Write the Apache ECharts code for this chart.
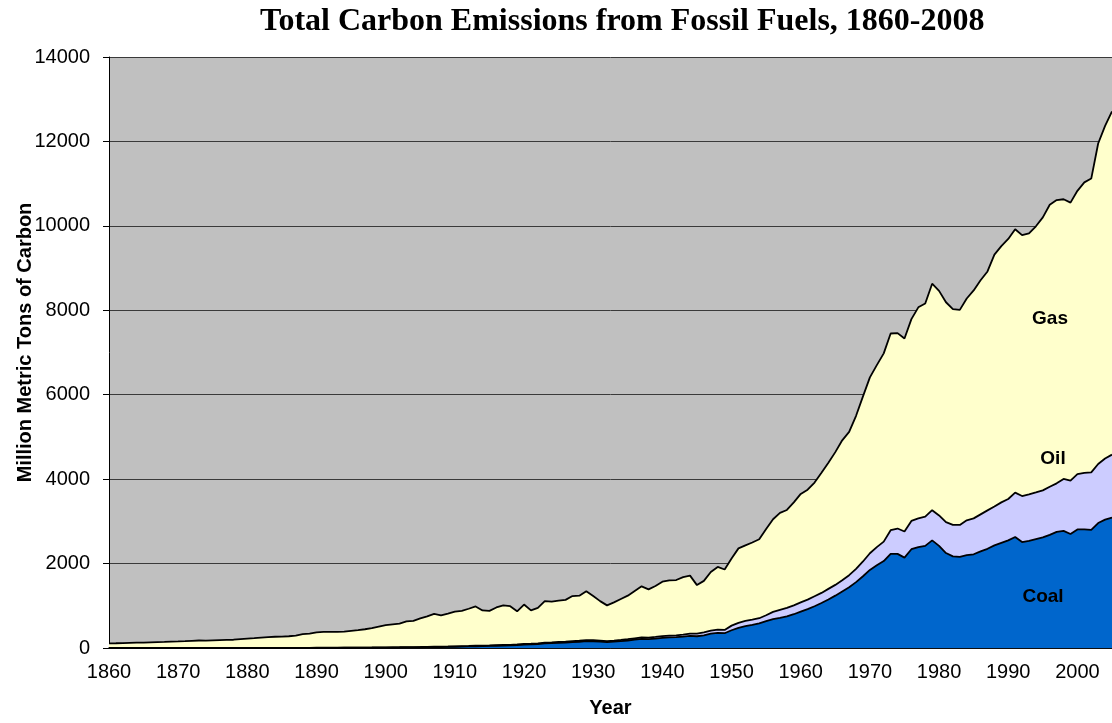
<!DOCTYPE html>
<html>
<head>
<meta charset="utf-8">
<script src="https://cdn.jsdelivr.net/npm/echarts@6/dist/echarts.min.js"></script>
<style>
html,body{margin:0;padding:0;background:#fff;}
#chart{width:1112px;height:723px;}
</style>
</head>
<body>
<div id="chart"></div>
<script>
// Years 1860..2005
var years = [];
for (var y = 1860; y <= 2005; y++) years.push(y);

// Top edge of the Gas band (total emissions)
var gasTop = [
  110,113,117,121,125,129,134,139,144,150,
  155,162,170,178,176,182,188,194,196,208,
  220,232,246,258,266,270,278,295,330,340,
  370,382,382,380,390,408,424,444,470,505,
  540,560,575,630,645,700,750,808,775,815,
  860,880,930,985,890,880,960,1010,990,870,
  1030,890,950,1110,1100,1120,1140,1230,1240,1345,
  1230,1110,1010,1080,1160,1240,1350,1460,1390,1470,
  1570,1600,1610,1680,1715,1490,1590,1800,1920,1860,
  2120,2360,2430,2500,2575,2820,3050,3200,3270,3450,
  3650,3750,3920,4150,4390,4640,4920,5120,5500,5960,
  6410,6700,6980,7450,7460,7330,7790,8070,8160,8630,
  8460,8190,8030,8010,8280,8470,8710,8920,9320,9520,
  9690,9920,9780,9820,9990,10200,10500,10610,10630,10550,
  10830,11030,11120,11950,12370,12710
];

// Top edge of the Oil band (coal + oil)
var oilTop = [
  0,0,0,0,0,0,0,0,0,0,
  0,0,0,0,0,0,0,0,0,0,
  0,0,0,0,1,3,3,4,4,5,
  6,7,7,7,8,9,10,11,12,14,
  16,17,18,20,22,24,27,30,32,35,
  40,44,48,54,57,60,66,72,76,84,
  95,101,110,127,134,143,150,161,172,188,
  184,176,165,176,190,208,230,252,248,262,
  280,292,300,318,340,340,368,410,435,428,
  530,595,640,670,705,775,855,905,950,1010,
  1080,1145,1225,1305,1400,1495,1605,1725,1875,2050,
  2245,2390,2520,2790,2830,2760,3010,3070,3110,3265,
  3140,2980,2915,2915,3025,3070,3165,3260,3350,3450,
  3530,3680,3600,3640,3685,3735,3820,3900,4005,3965,
  4120,4150,4160,4360,4490,4580
];

// Top edge of the Coal band
var coalTop = [
  0,0,0,0,0,0,0,0,0,0,
  0,0,0,0,0,0,0,0,0,0,
  0,0,0,0,0,2,2,3,3,4,
  4,5,5,5,6,6,7,8,9,10,
  11,12,13,15,16,18,20,23,24,26,
  30,33,37,42,45,48,53,58,62,68,
  78,84,92,108,114,122,128,138,148,162,
  158,150,140,150,162,178,198,218,212,224,
  240,250,256,270,288,278,300,338,358,350,
  420,478,520,550,585,635,685,715,750,800,
  860,920,990,1065,1150,1240,1340,1440,1560,1700,
  1850,1960,2060,2230,2230,2140,2340,2390,2420,2550,
  2420,2250,2170,2160,2200,2220,2290,2350,2430,2490,
  2550,2630,2510,2540,2580,2620,2680,2750,2775,2700,
  2810,2810,2800,2960,3040,3090
];

var bandNames = ['Gas', 'Oil', 'Coal'];
var bandColors = ['#FFFFCC', '#CCCCFF', '#0066CC'];
var yTicks = [0, 2000, 4000, 6000, 8000, 10000, 12000, 14000];

function pairs(arr) {
  return arr.map(function (v, i) { return [years[i], v]; });
}

var SANS = "'Liberation Sans', Arial, sans-serif";
var chart = echarts.init(document.getElementById('chart'));

function bandSeries(name, data, color) {
  return {
    name: name,
    type: 'line',
    data: pairs(data),
    showSymbol: false,
    symbol: 'none',
    smooth: false,
    lineStyle: { color: '#000', width: 1.8 },
    areaStyle: { color: color, opacity: 1 },
    emphasis: { disabled: true },
    silent: true
  };
}

function bandLabel(text, x, y) {
  return {
    type: 'text',
    x: x,
    y: y,
    z: 100,
    zlevel: 1,
    style: {
      text: text,
      fontFamily: SANS,
      fontWeight: 'bold',
      fontSize: 19,
      fill: '#000',
      align: 'center',
      verticalAlign: 'middle'
    }
  };
}

chart.setOption({
  animation: false,
  backgroundColor: '#ffffff',
  title: {
    text: 'Total Carbon Emissions from Fossil Fuels, 1860-2008',
    left: 255,
    top: 1,
    textStyle: {
      fontFamily: "'Liberation Serif', 'Times New Roman', serif",
      fontWeight: 'bold',
      fontSize: 32,
      color: '#000'
    }
  },
  grid: {
    left: 109,
    right: 0,
    top: 57,
    bottom: 75,
    show: true,
    backgroundColor: '#C0C0C0',
    borderWidth: 0,
    containLabel: false,
    outerBoundsMode: 'none'
  },
  xAxis: {
    type: 'value',
    min: 1860,
    max: 2005,
    interval: 10,
    name: 'Year',
    nameLocation: 'middle',
    nameGap: 50,
    nameMoveOverlap: false,
    nameTextStyle: { fontFamily: SANS, fontWeight: 'bold', fontSize: 20, color: '#000' },
    axisLine: { show: true, lineStyle: { color: '#000', width: 1.5 } },
    axisTick: { show: false },
    splitLine: { show: false },
    axisLabel: {
      fontFamily: SANS,
      fontSize: 20,
      color: '#000',
      margin: 14,
      showMaxLabel: false,
      formatter: function (v) { return v % 10 === 0 ? String(v) : ''; }
    }
  },
  yAxis: {
    type: 'value',
    min: yTicks[0],
    max: yTicks[yTicks.length - 1],
    interval: 2000,
    name: 'Million Metric Tons of Carbon',
    nameLocation: 'middle',
    nameRotate: 90,
    nameGap: 74,
    nameMoveOverlap: false,
    nameTextStyle: { fontFamily: SANS, fontWeight: 'bold', fontSize: 20, color: '#000', padding: [0, 0, 0, 20] },
    axisLine: { show: true, lineStyle: { color: '#000', width: 1 } },
    axisTick: { show: true, length: 6, lineStyle: { color: '#000' } },
    splitLine: { show: true, lineStyle: { color: '#3a3a3a', width: 1 } },
    axisLabel: {
      fontFamily: SANS,
      fontSize: 20,
      color: '#000',
      margin: 19,
      formatter: function (v) { return String(v); }
    }
  },
  series: [
    bandSeries(bandNames[0], gasTop, bandColors[0]),
    bandSeries(bandNames[1], oilTop, bandColors[1]),
    bandSeries(bandNames[2], coalTop, bandColors[2])
  ],
  graphic: [
    bandLabel('Gas', 1050, 319),
    bandLabel('Oil', 1053, 459),
    bandLabel('Coal', 1043, 597)
  ]
});
</script>
</body>
</html>
